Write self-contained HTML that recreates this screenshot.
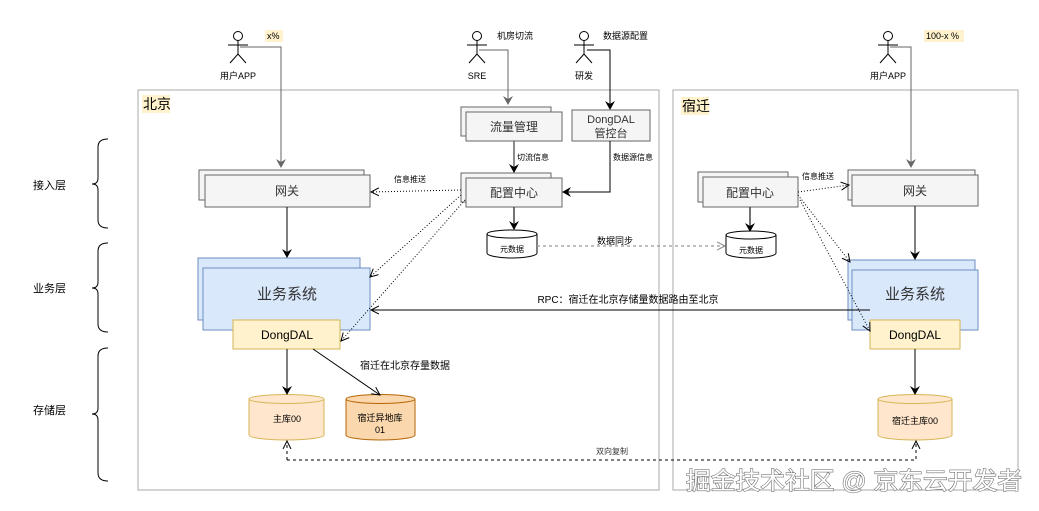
<!DOCTYPE html>
<html><head><meta charset="utf-8"><style>
html,body{margin:0;padding:0;background:#fff;}
svg{display:block;font-family:"Liberation Sans","Noto Sans CJK SC",sans-serif;}
</style></head><body>
<svg width="1039" height="511" viewBox="0 0 1039 511" xmlns="http://www.w3.org/2000/svg">
<defs>
<marker id="a" markerWidth="10" markerHeight="10" refX="8" refY="5" orient="auto" markerUnits="userSpaceOnUse"><path d="M0,0 L9,5 L0,10 L3,5 Z" fill="#000"/></marker>
<marker id="ag" markerWidth="10" markerHeight="10" refX="8" refY="5" orient="auto" markerUnits="userSpaceOnUse"><path d="M0,0 L9,5 L0,10 L3,5 Z" fill="#666"/></marker>
<marker id="o" markerWidth="10" markerHeight="10" refX="8" refY="5" orient="auto" markerUnits="userSpaceOnUse"><path d="M0,1 L8,5 L0,9" fill="none" stroke="#000" stroke-width="1"/></marker>
<marker id="og" markerWidth="10" markerHeight="10" refX="8" refY="5" orient="auto" markerUnits="userSpaceOnUse"><path d="M0,1 L8,5 L0,9" fill="none" stroke="#888" stroke-width="1"/></marker>
<g id="actor" fill="none" stroke="#000" stroke-width="1"><circle cx="0" cy="0" r="4.5"/><path d="M0,4.5 V18 M-10,9 H10 M-8,27 L0,18 L8,27"/></g>
</defs>

<rect x="138" y="90" width="521" height="400" fill="none" stroke="#aaa"/>
<rect x="673" y="90" width="345" height="400" fill="none" stroke="#aaa"/>
<rect x="142" y="95" width="28" height="18" fill="#fff2cc"/>
<text x="143" y="109" font-size="14">北京</text>
<rect x="681" y="97" width="28" height="18" fill="#fff2cc"/>
<text x="682" y="111" font-size="14">宿迁</text>

<g font-size="11" fill="#000"><text x="33" y="189">接入层</text><text x="33" y="292">业务层</text><text x="33" y="414">存储层</text></g>
<g fill="none" stroke="#000" stroke-width="1">
<path d="M108,139 Q98,139 98,147 V178 Q98,184 92,184 Q98,184 98,190 V220 Q98,228 108,228"/>
<path d="M108,243 Q98,243 98,251 V282 Q98,288 92,288 Q98,288 98,294 V324 Q98,332 108,332"/>
<path d="M108,348 Q98,348 98,356 V408 Q98,414 92,414 Q98,414 98,420 V473 Q98,481 108,481"/>
</g>

<use href="#actor" x="238" y="36"/>
<text x="238" y="79" font-size="9" text-anchor="middle">用户APP</text>
<rect x="265" y="30" width="18" height="12" fill="#fff2cc"/><text x="267" y="39" font-size="9">x%</text>
<use href="#actor" x="477" y="36"/>
<text x="477" y="79" font-size="9" text-anchor="middle">SRE</text>
<text x="497" y="39" font-size="9">机房切流</text>
<use href="#actor" x="584" y="36"/>
<text x="584" y="79" font-size="9" text-anchor="middle">研发</text>
<text x="603" y="39" font-size="9">数据源配置</text>
<use href="#actor" x="888" y="36"/>
<text x="888" y="79" font-size="9" text-anchor="middle">用户APP</text>
<rect x="924" y="30" width="40" height="12" fill="#fff2cc"/><text x="926" y="39" font-size="9">100-x %</text>

<path d="M240,47 H281 V167" fill="none" stroke="#666" marker-end="url(#ag)"/>
<path d="M479,50 H508 V104" fill="none" stroke="#666" marker-end="url(#ag)"/>
<path d="M587,50 H610 V109" fill="none" stroke="#000" marker-end="url(#a)"/>
<path d="M890,47 H911 V167" fill="none" stroke="#666" marker-end="url(#ag)"/>

<g stroke="#666" fill="#f5f5f5">
<rect x="199" y="170" width="165" height="30"/><rect x="205" y="175" width="165" height="32"/>
<rect x="461" y="107" width="90" height="29"/><rect x="466" y="112" width="96" height="29"/>
<rect x="572" y="110" width="78" height="31"/>
<rect x="461" y="173" width="90" height="29"/><rect x="466" y="178" width="96" height="29"/>
<rect x="698" y="172" width="90" height="30"/><rect x="703" y="177" width="95" height="30"/>
<rect x="848" y="170" width="127" height="30"/><rect x="852" y="175" width="126" height="31"/>
</g>
<g font-size="12" text-anchor="middle" fill="#333">
<text x="287" y="195">网关</text><text x="514" y="131">流量管理</text>
<text x="611" y="123" font-size="11">DongDAL</text><text x="611" y="137" font-size="11">管控台</text>
<text x="514" y="197">配置中心</text><text x="750" y="197">配置中心</text><text x="915" y="195">网关</text>
</g>
<g stroke="#6c8ebf" fill="#dae8fc">
<rect x="198" y="258" width="162" height="62"/><rect x="203" y="268" width="167" height="62"/>
<rect x="848" y="260" width="127" height="60"/><rect x="852" y="270" width="126" height="60"/>
</g>
<g font-size="15" text-anchor="middle" fill="#333"><text x="287" y="299">业务系统</text><text x="915" y="299">业务系统</text></g>
<g stroke="#d6b656" fill="#fff2cc"><rect x="233" y="320" width="107" height="29"/><rect x="870" y="320" width="90" height="29"/></g>
<g font-size="12" text-anchor="middle" fill="#000"><text x="287" y="339">DongDAL</text><text x="915" y="339">DongDAL</text></g>

<g stroke="#000" fill="#fff">
<path d="M487,234 V253 A25,5 0 0 0 537,253 V234"/><ellipse cx="512" cy="234" rx="25" ry="4"/>
<path d="M726,235 V253 A25,5 0 0 0 776,253 V235"/><ellipse cx="751" cy="235" rx="25" ry="4"/>
</g>
<g font-size="8" text-anchor="middle"><text x="512" y="252">元数据</text><text x="751" y="253">元数据</text></g>
<g stroke="#d6b656" fill="#ffe6cc">
<path d="M249,399 V435 A37.5,5 0 0 0 324,435 V399"/><ellipse cx="286.5" cy="399" rx="37.5" ry="4.5"/>
<path d="M878,399 V435 A37,5 0 0 0 952,435 V399"/><ellipse cx="915" cy="399" rx="37" ry="4.5"/>
</g>
<g stroke="#b46504" fill="#fad7ac"><path d="M346,399 V435 A34.5,5 0 0 0 415,435 V399"/><ellipse cx="380.5" cy="399" rx="34.5" ry="4.5"/></g>
<g font-size="9" text-anchor="middle"><text x="287" y="422">主库00</text><text x="380" y="421">宿迁异地库</text><text x="380" y="433">01</text><text x="915" y="424">宿迁主库00</text></g>

<g fill="none" stroke="#000">
<path d="M287,207 V257" marker-end="url(#a)"/>
<path d="M287,349 V394" marker-end="url(#a)"/>
<path d="M313,349 L380,395" marker-end="url(#o)"/>
<path d="M870,310 H371" marker-end="url(#o)"/>
<path d="M610,141 V192 H563" marker-end="url(#a)"/>
<path d="M915,206 V259" marker-end="url(#a)"/>
<path d="M915,349 V394" marker-end="url(#a)"/>
<path d="M287,460 H916 V441" stroke-dasharray="3,3" marker-end="url(#o)"/>
<path d="M287,460 V441" stroke-dasharray="3,3" marker-end="url(#o)"/>
<path d="M461,190 L371,192" stroke-dasharray="1,2" marker-end="url(#o)"/>
<path d="M461,195 L370,277" stroke-dasharray="1,2" marker-end="url(#o)"/>
<path d="M465,200 L341,341" stroke-dasharray="1,2" marker-end="url(#o)"/>
<path d="M798,192 L849,185" stroke-dasharray="1,2" marker-end="url(#o)"/>
<path d="M798,195 L850,262" stroke-dasharray="1,2" marker-end="url(#o)"/>
<path d="M800,200 L870,331" stroke-dasharray="1,2" marker-end="url(#o)"/>
</g>
<path d="M514,141 V172" fill="none" stroke="#666" stroke-width="1.5" marker-end="url(#a)"/>
<path d="M514,207 V229" fill="none" stroke="#444" stroke-width="1.5" marker-end="url(#a)"/>
<path d="M750,207 V231" fill="none" stroke="#444" stroke-width="1.5" marker-end="url(#a)"/>
<path d="M537,246 H725" fill="none" stroke="#999" stroke-width="1.2" stroke-dasharray="3,3" marker-end="url(#og)"/>

<g font-size="8" fill="#000">
<text x="517" y="160">切流信息</text><text x="613" y="160">数据源信息</text>
<text x="394" y="182">信息推送</text><text x="802" y="179">信息推送</text>
<text x="596" y="454" fill="#333">双向复制</text>
</g>
<text x="597" y="244" font-size="9">数据同步</text>
<text x="360" y="369" font-size="10">宿迁在北京存量数据</text>
<text x="628" y="303" font-size="10" text-anchor="middle">RPC：宿迁在北京存储量数据路由至北京</text>

<text x="686" y="489" font-size="24" textLength="336" lengthAdjust="spacingAndGlyphs" fill="#fff" stroke="#777" stroke-width="1.2" paint-order="stroke">掘金技术社区 @ 京东云开发者</text>
</svg>
</body></html>
